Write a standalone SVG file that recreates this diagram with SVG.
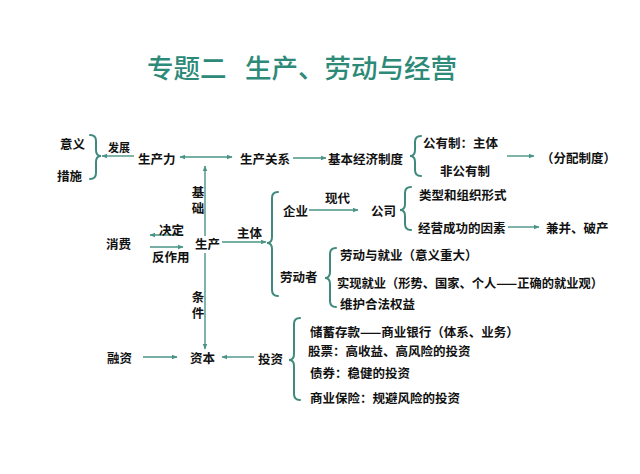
<svg xmlns="http://www.w3.org/2000/svg" width="640" height="474" viewBox="0 0 640 474">
<style>
.t{font-family:"Noto Sans CJK SC","Noto Sans",sans-serif;font-size:12.5px;font-weight:bold;fill:#111;dominant-baseline:central}
.v{font-family:"Noto Sans CJK SC","Noto Sans",sans-serif;font-size:12.5px;font-weight:bold;fill:#111;writing-mode:vertical-rl;letter-spacing:3.5px}
.title{font-family:"Noto Sans CJK SC","Noto Sans",sans-serif;font-size:26.5px;font-weight:500;fill:#2d8a78;dominant-baseline:central}
.ln{stroke:#4a9486;stroke-width:1.4;fill:none}
.br{stroke:#3f8a7c;stroke-width:2;fill:none;stroke-linecap:round}
</style>
<defs>
<marker id="ah" viewBox="0 0 10 10" refX="9" refY="5" markerWidth="6" markerHeight="6" orient="auto-start-reverse" markerUnits="userSpaceOnUse">
<path d="M0,1 L10,5 L0,9 Z" fill="#4a9486"/>
</marker>
</defs>
<rect width="640" height="474" fill="#ffffff"/>
<text class="title" x="147" y="66">专题二<tspan x="245">生产、劳动与经营</tspan></text>

<g id="connectors">
<line class="ln" x1="134" y1="156" x2="102" y2="156" marker-end="url(#ah)"/>
<line class="ln" x1="180" y1="157" x2="232" y2="157" marker-start="url(#ah)" marker-end="url(#ah)"/>
<line class="ln" x1="293" y1="158" x2="326" y2="158" marker-end="url(#ah)"/>
<line class="ln" x1="507" y1="156" x2="534" y2="156" marker-end="url(#ah)"/>
<line class="ln" x1="309" y1="210" x2="358" y2="210" marker-end="url(#ah)"/>
<line class="ln" x1="508" y1="227" x2="539" y2="227" marker-end="url(#ah)"/>
<line class="ln" x1="205" y1="236" x2="205" y2="166" marker-end="url(#ah)"/>
<line class="ln" x1="205" y1="253" x2="205" y2="349" marker-end="url(#ah)"/>
<line class="ln" x1="183" y1="235" x2="150" y2="235" marker-end="url(#ah)"/>
<line class="ln" x1="150" y1="247" x2="183" y2="247" marker-end="url(#ah)"/>
<line class="ln" x1="222" y1="242" x2="266" y2="242" marker-end="url(#ah)"/>
<line class="ln" x1="143" y1="357" x2="177" y2="357" marker-end="url(#ah)"/>
<line class="ln" x1="254" y1="357" x2="222" y2="357" marker-end="url(#ah)"/>
</g>

<g id="braces">
<path class="br" d="M90,135 Q96,135 96,141 L96,150 Q96,156 101,156 Q96,156 96,162 L96,173 Q96,179 90,179"/>
<path class="br" d="M421,136 Q415,136 415,142 L415,150 Q415,156 410,156 Q415,156 415,162 L415,170 Q415,176 421,176"/>
<path class="br" d="M411,187 Q405,187 405,193 L405,204 Q405,210 400,210 Q405,210 405,216 L405,224 Q405,230 411,230"/>
<path class="br" d="M278,192 Q272,192 272,198 L272,237 Q272,243 267,243 Q272,243 272,249 L272,290 Q272,296 278,296"/>
<path class="br" d="M336,248 Q330,248 330,254 L330,272 Q330,278 325,278 Q330,278 330,284 L330,301 Q330,307 336,307"/>
<path class="br" d="M300,318 Q294,318 294,324 L294,354 Q294,360 289,360 Q294,360 294,366 L294,394 Q294,400 300,400"/>
</g>

<g id="n-yiyi"><text class="t" x="60" y="143">意义</text></g>
<g id="n-cuoshi"><text class="t" x="57" y="175">措施</text></g>
<g id="l-fazhan"><text class="t" x="108" y="147" style="font-size:11px">发展</text></g>
<g id="n-shengchanli"><text class="t" x="138" y="158">生产力</text></g>
<g id="n-shengchanguanxi"><text class="t" x="240" y="158">生产关系</text></g>
<g id="n-jiben"><text class="t" x="328" y="158">基本经济制度</text></g>
<g id="n-gongyou"><text class="t" x="423" y="142">公有制：主体</text></g>
<g id="n-feigongyou"><text class="t" x="440" y="170">非公有制</text></g>
<g id="n-fenpei"><text class="t" x="541" y="157">（分配制度）</text></g>
<g id="l-jichu"><text class="v" x="198" y="186">基础</text></g>
<g id="n-qiye"><text class="t" x="283" y="210">企业</text></g>
<g id="l-xiandai"><text class="t" x="325" y="197">现代</text></g>
<g id="n-gongsi"><text class="t" x="371" y="210">公司</text></g>
<g id="n-leixing"><text class="t" x="419" y="194">类型和组织形式</text></g>
<g id="n-jingying"><text class="t" x="418" y="227">经营成功的因素</text></g>
<g id="n-jianbing"><text class="t" x="546" y="227">兼并、破产</text></g>
<g id="l-jueding"><text class="t" x="159" y="229">决定</text></g>
<g id="n-xiaofei"><text class="t" x="106" y="243">消费</text></g>
<g id="n-shengchan"><text class="t" x="195" y="243">生产</text></g>
<g id="l-fanzuoyong"><text class="t" x="152" y="256">反作用</text></g>
<g id="l-zhuti"><text class="t" x="237" y="232">主体</text></g>
<g id="n-laodongzhe"><text class="t" x="280" y="276">劳动者</text></g>
<g id="n-laodong1"><text class="t" x="340" y="254">劳动与就业（意义重大）</text></g>
<g id="n-laodong2"><text class="t" x="337" y="282" textLength="266" lengthAdjust="spacingAndGlyphs">实现就业（形势、国家、个人——正确的就业观）</text></g>
<g id="n-laodong3"><text class="t" x="340" y="303">维护合法权益</text></g>
<g id="l-tiaojian"><text class="v" x="198" y="291">条件</text></g>
<g id="n-rongzi"><text class="t" x="107" y="357">融资</text></g>
<g id="n-ziben"><text class="t" x="190" y="357">资本</text></g>
<g id="n-touzi"><text class="t" x="258" y="358">投资</text></g>
<g id="n-chuxu"><text class="t" x="310" y="331">储蓄存款——商业银行（体系、业务）</text></g>
<g id="n-gupiao"><text class="t" x="308" y="350">股票：高收益、高风险的投资</text></g>
<g id="n-zhaiquan"><text class="t" x="310" y="372">债券：稳健的投资</text></g>
<g id="n-baoxian"><text class="t" x="310" y="397">商业保险：规避风险的投资</text></g>
</svg>
